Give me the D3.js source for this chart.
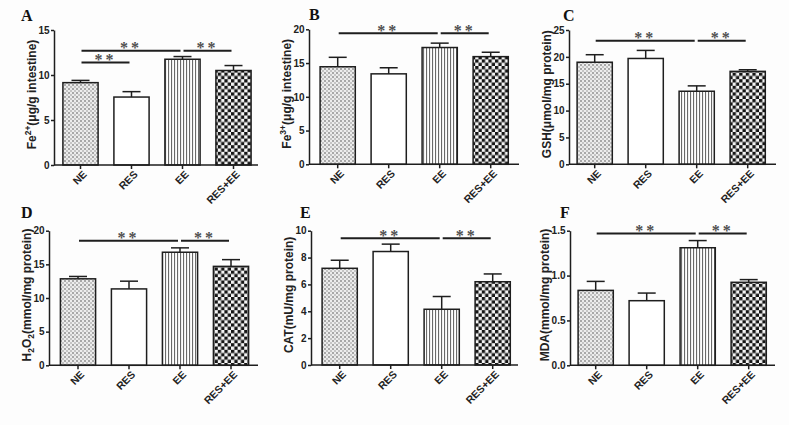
<!DOCTYPE html>
<html><head><meta charset="utf-8">
<script src="https://cdn.jsdelivr.net/npm/d3@7"></script>
<style>body{margin:0;background:#fff} svg{display:block}</style>
</head><body>
<svg id="c" width="789" height="425"></svg>
<script>
// ---------- data ----------
const groups = ["NE", "RES", "EE", "RES+EE"];
const fe2Mean = [9.15, 7.55, 11.75, 10.5];
const fe2Sem  = [0.25, 0.6, 0.3, 0.55];
const fe3Mean = [14.45, 13.4, 17.3, 15.95];
const fe3Sem  = [1.4, 0.9, 0.65, 0.65];
const gshMean = [19.0, 19.7, 13.6, 17.3];
const gshSem  = [1.4, 1.5, 1.0, 0.3];
const h2o2Mean = [12.85, 11.35, 16.8, 14.7];
const h2o2Sem  = [0.35, 1.15, 0.65, 1.0];
const catMean = [7.2, 8.45, 4.15, 6.2];
const catSem  = [0.6, 0.55, 0.95, 0.58];
const mdaMean = [0.835, 0.72, 1.31, 0.925];
const mdaSem  = [0.1, 0.085, 0.08, 0.03];
const yMaxes = [15, 20, 25, 20, 10, 1.5];
const yTickSteps = [5, 5, 5, 5, 2, 0.5];
const yTickFormats = ["d", "d", "d", "d", "d", ".1f"];
const panelLetters = ["A", "B", "C", "D", "E", "F"];
const yLabelA = [["Fe", ""], ["2+", "sup"], ["(\u03bcg/g intestine)", ""]];
const yLabelB = [["Fe", ""], ["3+", "sup"], ["(\u03bcg/g intestine)", ""]];
const yLabelC = [["GSH(\u03bcmol/mg protein)", ""]];
const yLabelD = [["H", ""], ["2", "sub"], ["O", ""], ["2", "sub"], ["(mmol/mg protein)", ""]];
const yLabelE = [["CAT(mU/mg protein)", ""]];
const yLabelF = [["MDA(mmol/mg protein)", ""]];
const sigA = [["NE", "RES", 11.4], ["NE", "EE", 12.7], ["EE", "RES+EE", 12.7]];
const sigB = [["NE", "EE", 19.4], ["EE", "RES+EE", 19.4]];
const sigC = [["NE", "EE", 23.0], ["EE", "RES+EE", 23.0]];
const sigD = [["NE", "EE", 18.5], ["EE", "RES+EE", 18.5]];
const sigE = [["NE", "EE", 9.43], ["EE", "RES+EE", 9.43]];
const sigF = [["NE", "EE", 1.47], ["EE", "RES+EE", 1.47]];
const sigLabel = "**";

const panels = [
  {mean: fe2Mean, sem: fe2Sem, label: yLabelA, sig: sigA},
  {mean: fe3Mean, sem: fe3Sem, label: yLabelB, sig: sigB},
  {mean: gshMean, sem: gshSem, label: yLabelC, sig: sigC},
  {mean: h2o2Mean, sem: h2o2Sem, label: yLabelD, sig: sigD},
  {mean: catMean, sem: catSem, label: yLabelE, sig: sigE},
  {mean: mdaMean, sem: mdaSem, label: yLabelF, sig: sigF}
].map((p, i) => Object.assign(p, {max: yMaxes[i], step: yTickSteps[i], fmt: yTickFormats[i], letter: panelLetters[i]}));

// ---------- layout ----------
const layout = [
  {x0: 54,  x1: 258, top: 30,    bot: 165,   off: 1.0, lx: 21,  ly: 21},
  {x0: 309, x1: 519, top: 29.3,  bot: 164.3, off: 3.2, lx: 309, ly: 20},
  {x0: 569, x1: 776, top: 30,    bot: 164.3, off: 0.2, lx: 563, ly: 21},
  {x0: 49,  x1: 258, top: 230.7, bot: 365.3, off: 3.5, lx: 21,  ly: 218},
  {x0: 311, x1: 518, top: 230.7, bot: 365,   off: 3.2, lx: 300, ly: 218},
  {x0: 570, x1: 775, top: 230.7, bot: 365.3, off: 0.2, lx: 560, ly: 218}
];
const STEP = 51;
const INK = "#1e1e1e";

const svg = d3.select("#c");
svg.append("rect").attr("width", 789).attr("height", 425).attr("fill", "#fdfdfd");
const defs = svg.append("defs");

// NE: fine grey stipple
const pNE = defs.append("pattern").attr("id", "pNE").attr("patternUnits", "userSpaceOnUse").attr("width", 4).attr("height", 4);
pNE.append("rect").attr("width", 4).attr("height", 4).attr("fill", "#ececec");
pNE.append("rect").attr("width", 2).attr("height", 2).attr("fill", "#a8a8a8");
pNE.append("rect").attr("x", 2).attr("y", 2).attr("width", 2).attr("height", 2).attr("fill", "#c4c4c4");
// EE: vertical stripes
const pEE = defs.append("pattern").attr("id", "pEE").attr("patternUnits", "userSpaceOnUse").attr("width", 3).attr("height", 3);
pEE.append("rect").attr("width", 3).attr("height", 3).attr("fill", "#fff");
pEE.append("rect").attr("width", 1.1).attr("height", 3).attr("fill", "#6a6a6a");
// RES+EE: checkerboard
const pRE = defs.append("pattern").attr("id", "pRE").attr("patternUnits", "userSpaceOnUse").attr("width", 6.6).attr("height", 6.6);
pRE.append("rect").attr("width", 6.6).attr("height", 6.6).attr("fill", "#f4f4f4");
pRE.append("rect").attr("width", 3.3).attr("height", 3.3).attr("fill", "#151515");
pRE.append("rect").attr("x", 3.3).attr("y", 3.3).attr("width", 3.3).attr("height", 3.3).attr("fill", "#151515");
const fills = ["url(#pNE)", "#ffffff", "url(#pEE)", "url(#pRE)"];

panels.forEach((p, i) => {
  const L = layout[i];
  const g = svg.append("g");
  const y = d3.scaleLinear().domain([0, p.max]).range([L.bot, L.top]);
  const x = d3.scaleBand().domain(groups)
    .range([L.x0 + L.off, L.x0 + L.off + 4 * STEP])
    .paddingInner(0.31).paddingOuter(0.155);
  const data = groups.map((k, j) => ({k, m: p.mean[j], s: p.sem[j], f: fills[j]}));

  // bars
  g.selectAll("rect.bar").data(data).join("rect").attr("class", "bar")
    .attr("x", d => x(d.k)).attr("width", x.bandwidth())
    .attr("y", d => y(d.m)).attr("height", d => y(0) - y(d.m))
    .attr("fill", d => d.f).attr("stroke", INK).attr("stroke-width", 1.5);

  // error bars (upper only)
  const cx = d => x(d.k) + x.bandwidth() / 2;
  g.selectAll("line.eb").data(data).join("line").attr("class", "eb")
    .attr("x1", cx).attr("x2", cx)
    .attr("y1", d => y(d.m)).attr("y2", d => y(d.m + d.s))
    .attr("stroke", INK).attr("stroke-width", 1.5);
  g.selectAll("line.cap").data(data).join("line").attr("class", "cap")
    .attr("x1", d => cx(d) - 9).attr("x2", d => cx(d) + 9)
    .attr("y1", d => y(d.m + d.s)).attr("y2", d => y(d.m + d.s))
    .attr("stroke", INK).attr("stroke-width", 1.5);

  // y axis
  const yAx = d3.axisLeft(y)
    .tickValues(d3.range(0, p.max + p.step / 2, p.step))
    .tickFormat(d3.format(p.fmt)).tickSize(3).tickSizeOuter(0).tickPadding(1.5);
  const ya = g.append("g").attr("transform", `translate(${L.x0},0)`).call(yAx);
  ya.select(".domain").attr("stroke", INK).attr("stroke-width", 1.5);
  ya.selectAll(".tick line").attr("stroke", INK).attr("stroke-width", 1.5);
  ya.selectAll(".tick text").attr("fill", "#222")
    .style("font", "bold 10px 'Liberation Sans', Arial, sans-serif");
  const tickLeft = d3.min(ya.selectAll(".tick text").nodes(), n => {
    const b = n.getBBox(); return b.x;
  }) + L.x0;

  // x axis
  const xAx = d3.axisBottom(x).tickSize(4).tickSizeOuter(0).tickPadding(3);
  const xa = g.append("g").attr("transform", `translate(0,${L.bot})`).call(xAx);
  xa.select(".domain").attr("d", `M${L.x0},0H${L.x1}`).attr("stroke", INK).attr("stroke-width", 1.5);
  xa.selectAll(".tick line").attr("stroke", INK).attr("stroke-width", 1.5);
  xa.selectAll(".tick text").attr("fill", "#222")
    .style("font", "bold 10.5px 'Liberation Sans', Arial, sans-serif")
    .attr("text-anchor", "end").attr("x", 0).attr("y", 0).attr("dy", 0)
    .attr("transform", "translate(7,10) rotate(-45)");

  // y label (baseline just left of the tick labels)
  const t = g.append("text")
    .attr("transform", `translate(${tickLeft - 2.5},${(L.top + L.bot) / 2 - 3}) rotate(-90)`)
    .attr("text-anchor", "middle").attr("fill", "#222")
    .style("font", "bold 12px 'Liberation Sans', Arial, sans-serif");
  let shift = 0;
  p.label.forEach(([txt, kind]) => {
    const ts = t.append("tspan").text(txt);
    let target = kind === "sup" ? -5 : kind === "sub" ? 3 : 0;
    ts.attr("dy", target - shift);
    shift = target;
    if (kind) ts.style("font-size", "8.5px");
  });

  // significance bars
  p.sig.forEach(([a, b, v]) => {
    const xa1 = x(a) + x.bandwidth() / 2 + 1;
    const xb1 = x(b) + x.bandwidth() / 2 - 2;
    g.append("line").attr("x1", xa1).attr("x2", xb1).attr("y1", y(v)).attr("y2", y(v))
      .attr("stroke", INK).attr("stroke-width", 2);
    g.append("text").attr("x", (xa1 + xb1) / 2).attr("y", y(v) + 2.5)
      .attr("text-anchor", "middle").attr("fill", "#505050")
      .style("font", "bold 16px 'Liberation Serif', 'Times New Roman', serif")
      .style("letter-spacing", "3px")
      .text(sigLabel);
  });

  // panel letter
  svg.append("text").attr("x", L.lx).attr("y", L.ly).attr("fill", "#111")
    .style("font", "bold 16px 'Liberation Serif', 'Times New Roman', serif")
    .text(p.letter);
});
</script>
</body></html>
